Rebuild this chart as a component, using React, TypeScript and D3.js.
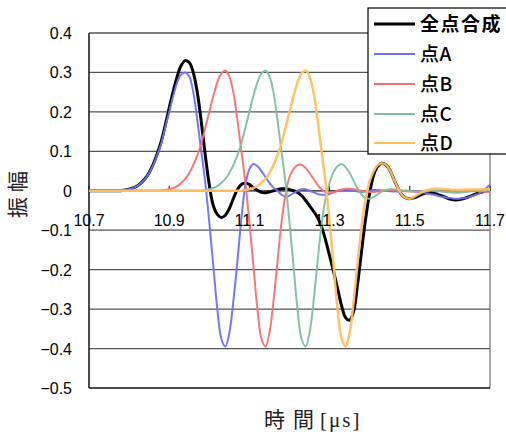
import React from "react";
import * as d3 from "d3";

// time grid (µs), 10.70 .. 11.70 step 0.01
const times: number[] = d3.range(0, 101).map((i) => +(10.7 + i * 0.01).toFixed(2));

const seriesAll: number[] = [
  0, 0, 0, 0, 0, 0, 0, 0, 0.0, 0.002,
  0.004, 0.007, 0.012, 0.02, 0.031, 0.046, 0.067, 0.093, 0.125, 0.166,
  0.21, 0.252, 0.29, 0.318, 0.33, 0.325, 0.3, 0.25, 0.175, 0.09,
  0.015, -0.038, -0.06, -0.068, -0.062, -0.045, -0.02, 0.003, 0.016, 0.02,
  0.016, 0.008, 0.001, -0.004, -0.005, -0.003, 0.0, 0.003, 0.005, 0.005,
  0.003, 0.0, -0.004, -0.012, -0.024, -0.038, -0.052, -0.068, -0.092, -0.125,
  -0.165, -0.205, -0.248, -0.292, -0.322, -0.328, -0.305, -0.235, -0.15, -0.07,
  -0.005, 0.04, 0.062, 0.07, 0.066, 0.053, 0.03, 0.008, -0.01, -0.018,
  -0.02, -0.018, -0.014, -0.009, -0.006, -0.005, -0.006, -0.009, -0.013, -0.017,
  -0.021, -0.023, -0.023, -0.021, -0.018, -0.014, -0.01, -0.006, -0.003, 0.0,
  0.003,
];

const seriesA: number[] = [
  0, 0, 0, 0, 0, 0, 0, 0, 0.0, 0.002,
  0.004, 0.007, 0.012, 0.02, 0.03, 0.045, 0.065, 0.09, 0.12, 0.16,
  0.2, 0.24, 0.275, 0.295, 0.3, 0.29, 0.25, 0.18, 0.1, 0.02,
  -0.08, -0.19, -0.3, -0.375, -0.395, -0.36, -0.28, -0.18, -0.07, 0.015,
  0.055, 0.068, 0.062, 0.05, 0.035, 0.02, 0.008, 0.0, -0.01, -0.015,
  -0.012, -0.006, 0.0, 0.004, 0.004, 0.0, -0.004, -0.008, -0.01, -0.01,
  -0.008, -0.004, 0.0, 0.002, 0.003, 0.002, 0.0, -0.002, -0.003, -0.002,
  0.0, 0.002, 0.002, 0.001, 0.0, -0.001, -0.002, -0.002, -0.001, 0.0,
  0.0, -0.001, -0.003, -0.004, -0.006, -0.008, -0.01, -0.013, -0.015, -0.017,
  -0.018, -0.02, -0.02, -0.019, -0.018, -0.015, -0.012, -0.008, -0.002, 0.006,
  0.015,
];

const seriesB: number[] = [
  0, 0, 0, 0, 0, 0, 0, 0, 0, 0,
  0, 0, 0, 0, 0, 0, 0, 0, 0.0, 0.002,
  0.004, 0.007, 0.012, 0.02, 0.03, 0.045, 0.065, 0.09, 0.12, 0.16,
  0.2, 0.24, 0.275, 0.297, 0.305, 0.29, 0.25, 0.18, 0.1, 0.02,
  -0.08, -0.19, -0.3, -0.375, -0.395, -0.36, -0.28, -0.18, -0.08, -0.01,
  0.035, 0.055, 0.065, 0.066, 0.058, 0.045, 0.03, 0.015, 0.003, -0.004,
  -0.006, -0.004, 0.0, 0.003, 0.005, 0.005, 0.004, 0.002, 0.0, -0.002,
  -0.003, -0.003, -0.002, 0.0, 0.001, 0.002, 0.002, 0.001, 0.0, -0.001,
  -0.002, -0.002, -0.002, -0.001, 0.0, 0.001, 0.001, 0.0, -0.001, -0.002,
  -0.003, -0.003, -0.003, -0.002, -0.001, 0.0, 0.0, -0.001, -0.002, -0.003,
  -0.004,
];

const seriesC: number[] = [
  0, 0, 0, 0, 0, 0, 0, 0, 0, 0,
  0, 0, 0, 0, 0, 0, 0, 0, 0, 0,
  0, 0, 0, 0, 0, 0, 0, 0, 0.0, 0.002,
  0.004, 0.007, 0.012, 0.02, 0.03, 0.045, 0.065, 0.09, 0.12, 0.16,
  0.2, 0.24, 0.275, 0.297, 0.305, 0.29, 0.25, 0.18, 0.1, 0.02,
  -0.08, -0.19, -0.3, -0.375, -0.395, -0.36, -0.28, -0.18, -0.085, -0.02,
  0.02, 0.048, 0.063, 0.068, 0.06, 0.045, 0.025, 0.005, -0.01, -0.018,
  -0.02, -0.016, -0.009, -0.002, 0.002, 0.004, 0.004, 0.003, 0.001, 0.0,
  -0.001, -0.002, -0.002, -0.001, 0.0, 0.001, 0.001, 0.0, -0.002, -0.003,
  -0.004, -0.005, -0.005, -0.004, -0.003, -0.002, -0.001, 0.0, 0.0, 0.001,
  0.001,
];

const seriesD: number[] = [
  0, 0, 0, 0, 0, 0, 0, 0, 0, 0,
  0, 0, 0, 0, 0, 0, 0, 0, 0, 0,
  0, 0, 0, 0, 0, 0, 0, 0, 0, 0,
  0, 0, 0, 0, 0, 0, 0, 0, 0.0, 0.002,
  0.004, 0.007, 0.012, 0.02, 0.03, 0.045, 0.065, 0.09, 0.12, 0.16,
  0.2, 0.24, 0.275, 0.297, 0.305, 0.29, 0.25, 0.18, 0.1, 0.02,
  -0.08, -0.19, -0.3, -0.375, -0.395, -0.36, -0.28, -0.18, -0.09, -0.02,
  0.025, 0.05, 0.065, 0.07, 0.066, 0.053, 0.03, 0.008, -0.01, -0.018,
  -0.02, -0.016, -0.01, -0.004, 0.0, 0.003, 0.005, 0.006, 0.005, 0.004,
  0.003, 0.002, 0.002, 0.002, 0.003, 0.003, 0.003, 0.003, 0.004, 0.004,
  0.004,
];

const seriesNames: string[] = ["全点合成", "点A", "点B", "点C", "点D"];
const seriesValues: number[][] = [seriesAll, seriesA, seriesB, seriesC, seriesD];
const seriesColors: string[] = ["#000000", "#6f6ff5", "#f57070", "#7fbf9f", "#ffbf5f"];
const seriesWidths: number[] = [3, 2, 2, 2, 2.5];

const yTicks: number[] = [0.4, 0.3, 0.2, 0.1, 0, -0.1, -0.2, -0.3, -0.4, -0.5];
const xTicks: number[] = [10.7, 10.9, 11.1, 11.3, 11.5, 11.7];

const W = 506;
const H = 432;
const plot = { left: 89, right: 490, top: 33, bottom: 388 };

const x = d3.scaleLinear().domain([10.7, 11.7]).range([plot.left, plot.right]);
const y = d3.scaleLinear().domain([-0.5, 0.4]).range([plot.bottom, plot.top]);

const fmtY = (v: number) => {
  if (v === 0) return "0";
  const s = Math.abs(v).toFixed(1);
  return v < 0 ? "\u2212" + s : s;
};

export default function App() {
  const line = d3
    .line<number>()
    .x((_, i) => x(times[i]))
    .y((d) => y(d))
    .curve(d3.curveCatmullRom.alpha(0.5));

  const legendRows = [24, 54, 84, 114, 143];

  return (
    <svg
      width={W}
      height={H}
      style={{ position: "absolute", left: 0, top: 0, display: "block", background: "#fff" }}
    >
      {/* gridlines */}
      {yTicks
        .filter((v) => v !== -0.5 && v !== 0)
        .map((v) => (
          <line
            key={"g" + v}
            x1={plot.left}
            x2={plot.right}
            y1={y(v)}
            y2={y(v)}
            stroke="#555"
            strokeWidth={1.3}
          />
        ))}
      {/* plot border */}
      <line x1={plot.right} x2={plot.right} y1={plot.top} y2={plot.bottom} stroke="#777" strokeWidth={1.3} />
      <line x1={plot.left} x2={plot.right} y1={plot.bottom} y2={plot.bottom} stroke="#111" strokeWidth={1.5} />
      <line x1={plot.left} x2={plot.left} y1={plot.top} y2={plot.bottom} stroke="#111" strokeWidth={1.5} />
      {/* zero axis */}
      <line x1={plot.left} x2={plot.right} y1={y(0)} y2={y(0)} stroke="#111" strokeWidth={1.2} />
      {xTicks.map((t) => (
        <line key={"t" + t} x1={x(t)} x2={x(t)} y1={y(0)} y2={y(0) - 5} stroke="#111" strokeWidth={1} />
      ))}

      {/* y tick labels */}
      {yTicks.map((v) => (
        <text
          key={"yl" + v}
          x={72}
          y={y(v) + 6}
          textAnchor="end"
          fontFamily="'Liberation Sans', Arial, sans-serif"
          fontSize={16}
          fill="#000"
        >
          {fmtY(v)}
        </text>
      ))}

      {/* series */}
      {seriesValues.map((vals, k) => (
        <path
          key={"s" + k}
          d={line(vals) || ""}
          fill="none"
          stroke={seriesColors[k]}
          strokeWidth={seriesWidths[k]}
          strokeLinejoin="round"
          strokeOpacity={k === 0 ? 1 : 0.95}
        />
      ))}

      {/* x tick labels */}
      {xTicks.map((t) => (
        <text
          key={"xl" + t}
          x={x(t)}
          y={226}
          textAnchor="middle"
          fontFamily="'Liberation Sans', Arial, sans-serif"
          fontSize={16}
          fill="#000"
        >
          {t.toFixed(1)}
        </text>
      ))}

      {/* axis titles */}
      <text
        transform={`translate(25, 192) rotate(-90)`}
        textAnchor="middle"
        fontFamily="'Noto Sans CJK JP', sans-serif"
        fontSize={21}
        letterSpacing={5}
        fill="#222"
      >
        振幅
      </text>
      <text
        x={264}
        y={427}
        fontFamily="'Noto Sans CJK JP', serif"
        fontSize={21}
        fill="#222"
      >
        <tspan>時</tspan>
        <tspan dx={8}>間</tspan>
        <tspan dx={6} fontFamily="'Liberation Serif', 'DejaVu Serif', serif" letterSpacing={2}>
          [μs]
        </tspan>
      </text>

      {/* legend */}
      <rect x={368} y={8} width={160} height={146} fill="#fff" stroke="#111" strokeWidth={1.3} />
      {seriesNames.map((name, k) => (
        <g key={"lg" + k}>
          <line
            x1={374}
            x2={415}
            y1={legendRows[k]}
            y2={legendRows[k]}
            stroke={seriesColors[k]}
            strokeWidth={k === 0 ? 3 : 2.2}
          />
          <text
            x={420}
            y={legendRows[k] + 7}
            fontFamily="'Noto Sans CJK JP', sans-serif"
            fontSize={19}
            fontWeight={k === 0 ? 700 : 500}
            letterSpacing={k === 0 ? 1.5 : 0.5}
            fill="#000"
          >
            {name}
          </text>
        </g>
      ))}
    </svg>
  );
}
